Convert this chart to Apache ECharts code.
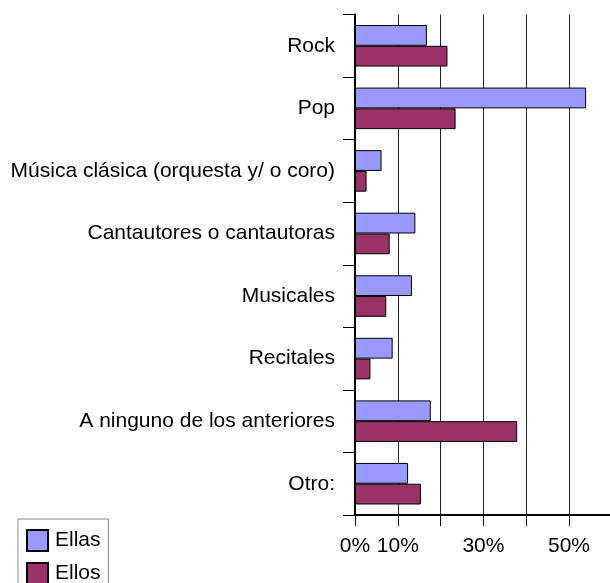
<!DOCTYPE html>
<html>
<head>
<meta charset="utf-8">
<script src="https://cdn.jsdelivr.net/npm/echarts@6/dist/echarts.min.js"></script>
<style>html,body{margin:0;padding:0;background:#fff;}#c{width:610px;height:583px;}</style>
</head>
<body>
<div id="c"></div>
<script>
const categories = ["Rock", "Pop", "Música clásica (orquesta y/ o coro)", "Cantautores o cantautoras", "Musicales", "Recitales", "A ninguno de los anteriores", "Otro:"];
const ellas = [16.8, 54.0, 6.2, 14.1, 13.3, 8.8, 17.7, 12.4];
const ellos = [21.6, 23.5, 2.7, 8.1, 7.3, 3.6, 37.9, 15.4];
const shownTicks = [0, 10, 30, 50];

const chart = echarts.init(document.getElementById('c'), null, {renderer: 'canvas'});
const font = 'Liberation Sans, Arial, sans-serif';
chart.setOption({
  animation: false,
  backgroundColor: '#fff',
  textStyle: {fontFamily: font},
  grid: {left: 355, top: 14.5, width: 256.8, height: 500.5, outerBoundsMode: 'none', containLabel: false},
  legend: {
    orient: 'vertical', left: 18, top: 519, height: 90, width: 90,
    padding: [10, 8, 10, 8],
    itemWidth: 21, itemHeight: 21, itemGap: 10,
    borderColor: '#888', borderWidth: 1,
    icon: 'rect',
    textStyle: {fontSize: 21, color: '#000', fontFamily: font, padding: [0, 0, 0, 2]},
    data: ['Ellas', 'Ellos']
  },
  xAxis: {
    type: 'value', min: 0, max: 60, interval: 10,
    axisLine: {show: true, lineStyle: {color: '#000', width: 2}},
    axisTick: {show: true, length: 11, lineStyle: {color: '#000', width: 1}},
    splitLine: {show: true, lineStyle: {color: '#222', width: 1}},
    axisLabel: {
      margin: 21, fontSize: 21, color: '#000', fontFamily: font,
      formatter: v => shownTicks.indexOf(v) >= 0 ? v + '%' : ''
    }
  },
  yAxis: {
    type: 'category', data: categories, inverse: true,
    axisLine: {show: true, lineStyle: {color: '#000', width: 2}},
    axisTick: {show: true, length: 12, lineStyle: {color: '#000', width: 1}},
    axisLabel: {margin: 20, fontSize: 21, color: '#000', fontFamily: font}
  },
  series: [
    {name: 'Ellas', type: 'bar', data: ellas, barGap: '0%', barCategoryGap: '33.6%',
     itemStyle: {color: '#9999FF', borderColor: '#000', borderWidth: 1}},
    {name: 'Ellos', type: 'bar', data: ellos, barGap: '0%', barCategoryGap: '33.6%',
     itemStyle: {color: '#993366', borderColor: '#000', borderWidth: 1}}
  ]
});
</script>
</body>
</html>
